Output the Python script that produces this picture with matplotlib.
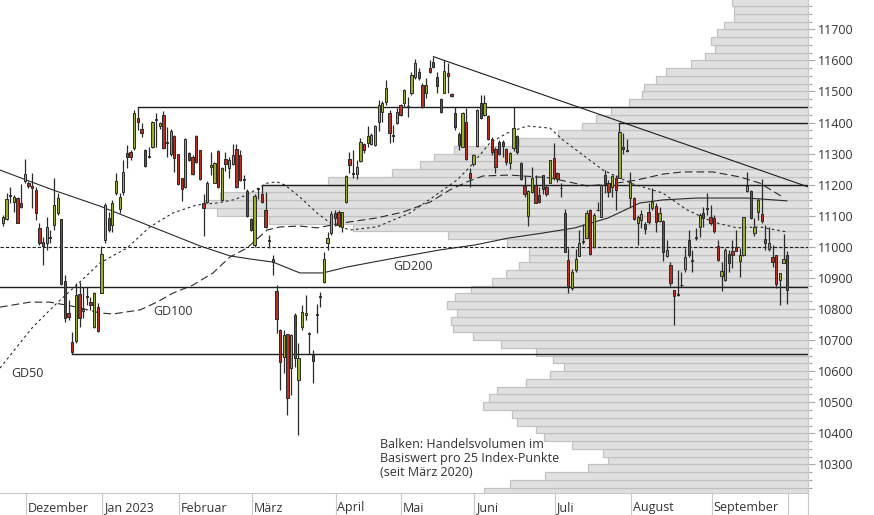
import numpy as np
import matplotlib
matplotlib.use("Agg")
import matplotlib.pyplot as plt
from matplotlib.lines import Line2D
from matplotlib.ticker import MultipleLocator

plt.rcParams['font.family'] = ['Open Sans', 'DejaVu Sans']

# trading-day index, 0 = 1 Dec 2022, first candle at -6
first_day = -6
opens = [11078, 11088, 11165, 11145, 11156, 11140, 11213, 11206, 11195, 11183,
         11060, 11017, 11011, 11030, 11070, 11110, 11088, 10891, 10786, 10695,
         10698, 10847, 10795, 10838, 10823, 10743, 10805, 10853, 11022, 11092,
         11070, 11172, 11121, 11175, 11303, 11306, 11317, 11415, 11378, 11312,
         11290, 11320, 11407, 11389, 11424, 11333, 11298, 11357, 11298, 11220,
         11191, 11303, 11290, 11357, 11310, 11142, 11145, 11258, 11206, 11308,
         11150, 11282, 11253, 11267, 11314, 11295, 11215, 11180, 11088, 11006,
         11186, 11170, 11118, 11018, 10960, 10858, 10732, 10644, 10718, 10609,
         10781, 10571, 10741, 10782, 10721, 10652, 10781, 10838, 10888, 11013,
         11046, 11108, 11112, 11063, 11145, 11284, 11234, 11234, 11276, 11330,
         11333, 11331, 11328, 11403, 11435, 11467, 11430, 11358, 11400, 11456,
         11462, 11450, 11494, 11545, 11564, 11521, 11494, 11574, 11596, 11545,
         11475, 11496, 11558, 11491, 11432, 11363, 11322, 11403, 11238, 11267,
         11325, 11464, 11424, 11421, 11346, 11314, 11338, 11336, 11314, 11271,
         11317, 11357, 11271, 11196, 11099, 11177, 11199, 11167, 11231, 11194,
         11206, 11285, 11236, 11188, 11108, 10958, 10866, 10925, 10971, 11016,
         11030, 11118, 10998, 11117, 11097, 11231, 11204, 11194, 11220, 11223,
         11322, 11310, 11156, 11156, 11078, 11086, 11073, 11113, 11124, 11131,
         11084, 11083, 10971, 10941, 10861, 10848, 10876, 10928, 11022, 10955,
         11029, 11065, 11108, 11123, 11097, 11092, 11003, 10907, 10893, 10977,
         10988, 10998, 10955, 10974, 11181, 11181, 11043, 11113, 11106, 11024,
         10992, 10968, 10974, 10893, 10949, 10974]
highs = [11102, 11174, 11194, 11167, 11159, 11202, 11282, 11213, 11237, 11194,
         11076, 11033, 11097, 11054, 11220, 11172, 11090, 10909, 10829, 10727,
         10883, 10888, 10872, 10872, 10840, 10856, 10818, 11003, 11140, 11113,
         11151, 11236, 11172, 11279, 11328, 11310, 11440, 11450, 11397, 11315,
         11322, 11405, 11432, 11402, 11438, 11387, 11378, 11360, 11300, 11222,
         11350, 11306, 11296, 11360, 11313, 11170, 11212, 11306, 11272, 11312,
         11258, 11305, 11290, 11330, 11330, 11312, 11230, 11185, 11092, 11170,
         11190, 11200, 11177, 11038, 10974, 10877, 10735, 10732, 10720, 10718,
         10786, 10689, 10813, 10845, 10727, 10668, 10816, 10856, 10984, 11048,
         11115, 11117, 11118, 11113, 11230, 11306, 11312, 11279, 11349, 11335,
         11389, 11365, 11392, 11473, 11468, 11537, 11440, 11392, 11446, 11460,
         11507, 11483, 11564, 11603, 11575, 11526, 11542, 11601, 11612, 11564,
         11478, 11601, 11590, 11494, 11449, 11371, 11435, 11446, 11253, 11300,
         11442, 11489, 11489, 11424, 11354, 11322, 11343, 11343, 11317, 11306,
         11451, 11360, 11274, 11228, 11183, 11258, 11231, 11193, 11231, 11200,
         11280, 11333, 11240, 11204, 11121, 10995, 10930, 10992, 11054, 11075,
         11118, 11123, 11108, 11145, 11202, 11247, 11215, 11231, 11231, 11400,
         11365, 11346, 11242, 11161, 11103, 11118, 11081, 11140, 11188, 11140,
         11129, 11086, 11022, 10952, 10861, 10925, 10920, 10995, 11054, 10990,
         11059, 11108, 11129, 11172, 11135, 11102, 11022, 10952, 10995, 10990,
         11022, 11054, 10995, 11097, 11242, 11183, 11092, 11156, 11217, 11070,
         11065, 11006, 10974, 10917, 11041, 10988]
lows = [11067, 11086, 11140, 11113, 11076, 11124, 11207, 11190, 11125, 11086,
        11006, 10941, 10990, 11011, 11054, 11102, 10877, 10759, 10765, 10655,
        10690, 10743, 10770, 10813, 10797, 10738, 10727, 10850, 11011, 11049,
        11049, 11167, 11108, 11167, 11253, 11280, 11312, 11376, 11355, 11258,
        11285, 11318, 11320, 11380, 11315, 11290, 11292, 11240, 11198, 11147,
        11189, 11277, 11230, 11270, 11214, 11035, 11142, 11231, 11204, 11190,
        11148, 11245, 11220, 11262, 11190, 11213, 11185, 11095, 11050, 11000,
        11155, 11140, 11060, 10995, 10909, 10722, 10539, 10593, 10459, 10523,
        10614, 10394, 10732, 10765, 10655, 10561, 10724, 10807, 10882, 10990,
        11038, 11067, 11065, 11049, 11140, 11236, 11220, 11217, 11274, 11301,
        11322, 11328, 11324, 11374, 11403, 11456, 11333, 11338, 11395, 11420,
        11449, 11419, 11488, 11539, 11538, 11446, 11478, 11560, 11574, 11494,
        11432, 11494, 11494, 11483, 11376, 11312, 11320, 11279, 11194, 11260,
        11320, 11410, 11420, 11344, 11295, 11239, 11296, 11290, 11263, 11249,
        11309, 11298, 11214, 11161, 11067, 11172, 11140, 11141, 11169, 11165,
        11204, 11215, 11210, 11159, 10984, 10850, 10862, 10920, 10970, 11010,
        11027, 10974, 10995, 11115, 11095, 11172, 11161, 11161, 11118, 11220,
        11300, 11306, 11129, 11086, 11006, 11059, 11041, 11075, 11118, 11049,
        11080, 10955, 10968, 10874, 10748, 10843, 10872, 10920, 10968, 10920,
        11022, 11033, 11065, 11102, 11070, 11046, 10955, 10858, 10891, 10920,
        10931, 10985, 10902, 10972, 11177, 11088, 11035, 11086, 11078, 10990,
        10988, 10936, 10866, 10813, 10947, 10816]
closes = [11095, 11153, 11168, 11159, 11078, 11127, 11234, 11197, 11190, 11108,
          11011, 11003, 11065, 11031, 11135, 11156, 10879, 10770, 10773, 10660,
          10845, 10770, 10800, 10842, 10814, 10853, 10728, 10977, 11135, 11054,
          11140, 11211, 11161, 11242, 11288, 11290, 11432, 11401, 11365, 11260,
          11293, 11403, 11410, 11400, 11317, 11337, 11374, 11285, 11201, 11186,
          11346, 11281, 11234, 11274, 11217, 11126, 11207, 11262, 11269, 11194,
          11253, 11267, 11279, 11297, 11194, 11215, 11218, 11099, 11054, 11164,
          11188, 11145, 11063, 11021, 10950, 10767, 10630, 10716, 10515, 10716,
          10641, 10641, 10789, 10786, 10723, 10634, 10784, 10841, 10961, 11030,
          11106, 11092, 11070, 11111, 11228, 11263, 11237, 11256, 11338, 11312,
          11357, 11360, 11389, 11458, 11462, 11510, 11365, 11361, 11435, 11424,
          11505, 11452, 11553, 11590, 11543, 11449, 11521, 11564, 11578, 11518,
          11435, 11567, 11550, 11485, 11385, 11328, 11430, 11282, 11220, 11296,
          11440, 11413, 11464, 11346, 11306, 11256, 11299, 11324, 11274, 11301,
          11381, 11306, 11217, 11170, 11180, 11220, 11142, 11145, 11185, 11170,
          11279, 11220, 11217, 11190, 10984, 10874, 10920, 10960, 11013, 11018,
          11108, 10976, 11102, 11119, 11199, 11206, 11177, 11228, 11183, 11370,
          11316, 11308, 11210, 11088, 11095, 11106, 11056, 11081, 11145, 11081,
          11108, 10984, 10990, 10882, 10842, 10845, 10877, 10968, 10974, 10957,
          11031, 11102, 11092, 11125, 11076, 11052, 10958, 10922, 10990, 10949,
          10974, 10988, 10973, 11095, 11196, 11092, 11065, 11151, 11084, 11013,
          11011, 10952, 10880, 10915, 10960, 10861]

# moving averages (day index, level)
gd50_x = [-6.8, 2.2, 8.8, 15.1, 20.6, 28.0, 34.3, 40.6, 47.2, 52.7, 57.1, 60.9, 66.4, 69.1,
          71.3, 75.4, 80.1, 83.7, 89.1, 96.5, 105.6, 111.9, 118.5, 122.0, 127.5, 132.2,
          137.7, 144.0, 147.5, 158.5, 166.5, 174.9, 181.5, 188.6, 195.2, 201.5, 208.9]
gd50_y = [10610, 10742, 10819, 10887, 10948, 10996, 11064, 11109, 11135, 11141, 11151, 11167,
          11205, 11209, 11199, 11160, 11109, 11077, 11054, 11064, 11109, 11160, 11215, 11257,
          11334, 11366, 11389, 11382, 11344, 11247, 11203, 11173, 11119, 11080, 11061, 11064, 11048]
gd100_x = [-6.8, 1.4, 6.9, 14.3, 20.6, 24.2, 31.6, 36.2, 40.6, 46.1, 51.6, 56.2, 60.9, 66.4,
           69.9, 75.4, 80.1, 87.2, 96.5, 103.7, 111.1, 116.5, 121.2, 125.6, 133.0, 144.0,
           154.1, 160.4, 167.8, 174.9, 180.4, 188.6, 196.0, 201.5, 207.8]
gd100_y = [10806, 10822, 10822, 10806, 10787, 10784, 10797, 10822, 10851, 10877, 10916, 10967,
           10996, 11054, 11064, 11067, 11061, 11077, 11093, 11112, 11144, 11183, 11209, 11228,
           11231, 11222, 11196, 11202, 11215, 11234, 11241, 11241, 11225, 11205, 11160]
gd200_x = [-6.8, 7.7, 20.6, 34.3, 48.0, 56.2, 61.7, 68.0, 75.4, 81.7, 88.3, 102.8, 113.8,
           123.4, 132.5, 141.8, 150.8, 159.9, 168.6, 174.9, 184.2, 198.0, 208.9]
gd200_y = [11247, 11183, 11131, 11067, 11003, 10971, 10961, 10951, 10916, 10916, 10935, 10967,
           10990, 11006, 11028, 11044, 11061, 11093, 11141, 11151, 11157, 11157, 11148]

# horizontal marks: start day, level
level_start = [31, 163, 65, -7, 13]
level_value = [11450, 11400, 11200, 10870, 10655]
trend_x = [112, 214.7]
trend_y = [11612, 11193]

# volume profile, 25-point bins from 10200 upwards (relative volume)
profile_low = np.arange(10200, 11800, 25)
profile_vol = [324, 298, 263, 220, 200, 205, 236, 264, 272, 291, 296, 325, 319, 311, 282, 258,
               244, 255, 272, 307, 335, 355, 357, 351, 361, 353, 337, 316, 302, 289, 279, 279,
               301, 360, 455, 539, 591, 603, 588, 546, 480, 416, 388, 374, 354, 289, 250, 226,
               212, 197, 179, 166, 164, 152, 142, 117, 103, 93, 97, 91, 84, 74, 74, 76]

month_start = [0, 21, 42, 62, 85, 103, 123, 145, 166, 188, 209]
month_names = ["Dezember", "Jan 2023", "Februar", "März", "April", "Mai", "Juni",
               "Juli", "August", "September", ""]

green = '#9bb021'
red = '#bb2f1f'
ink = '#2a2a2a'
txt = '#333333'
grid_gray = '#c8c8c8'

fig = plt.figure(figsize=(8.74, 5.15), dpi=100)
ax = fig.add_axes([0, 22 / 515, 808 / 874, 493 / 515])
axv = ax.twiny()
ax.set_zorder(axv.get_zorder() + 1)
ax.patch.set_visible(False)

# volume profile bars
axv.barh(profile_low, profile_vol, height=25, align='edge', color='#e0e0e0',
         edgecolor='#c2c2c2', linewidth=0.9)
axv.set_xlim(808, 0)
axv.axis('off')

days = np.arange(first_day, first_day + len(opens))
o = np.array(opens)
c = np.array(closes)
cols = [green if cc >= oo else red for oo, cc in zip(o, c)]
ax.vlines(days, lows, highs, color=ink, linewidth=0.9, zorder=3)
body = np.maximum(np.abs(c - o), 2)
ax.bar(days, body, bottom=np.minimum(o, c), width=0.62, color=cols,
       edgecolor=ink, linewidth=0.7, zorder=4)

# moving averages
ax.plot(gd200_x, gd200_y, color=ink, linewidth=0.8, zorder=2)
ax.plot(gd100_x, gd100_y, color=ink, linewidth=0.8, linestyle=(0, (7, 3.5)), zorder=2)
ax.plot(gd50_x, gd50_y, color=ink, linewidth=0.8, linestyle=(0, (2.3, 2.7)), zorder=2)

x0, x1 = -6.8, 214.7
for s, lv in zip(level_start, level_value):
    ax.plot([s, x1], [lv, lv], color='#1e1e1e', linewidth=1.0, zorder=2.5)
ax.plot([x0, x1], [11000, 11000], color='#1e1e1e', linewidth=0.8,
        linestyle=(0, (3, 1.8)), zorder=2.5)
ax.plot(trend_x, trend_y, color='#1e1e1e', linewidth=0.8, zorder=2.5)

ax.text(-3.6, 10592, "GD50", fontsize=9, color=txt, va='center', ha='left')
ax.text(35.1, 10793, "GD100", fontsize=9, color=txt, va='center', ha='left')
ax.text(101.0, 10936, "GD200", fontsize=9, color=txt, va='center', ha='left')

note = ["Balken: Handelsvolumen im", "Basiswert pro 25 Index-Punkte", "(seit März 2020)"]
for k, line in enumerate(note):
    ax.text(380 / 808, (493 - 447.5 - 14.3 * k) / 493, line, transform=ax.transAxes,
            fontsize=9, color=txt, va='baseline', ha='left')

ax.set_xlim(x0, x1)
ax.set_ylim(10207.8, 11794.3)

ax.yaxis.tick_right()
ax.yaxis.set_major_locator(MultipleLocator(100))
ax.yaxis.set_minor_locator(MultipleLocator(25))
ax.set_yticks(range(10300, 11800, 100))
ax.set_yticklabels([str(v) for v in range(10300, 11800, 100)])
ax.tick_params(axis='y', which='major', length=4.8, width=0.8, color='#a8a8a8',
               labelsize=9, labelcolor=txt, pad=2.2)
ax.tick_params(axis='y', which='minor', length=3.0, width=0.8, color='#a8a8a8')
ax.set_xticks([])

for side in ['top', 'left']:
    ax.spines[side].set_visible(False)
ax.spines['bottom'].set_color(grid_gray)
ax.spines['right'].set_color(grid_gray)
ax.spines['bottom'].set_linewidth(0.8)
ax.spines['right'].set_linewidth(0.8)

# month separators and names in the band below the plot
tr = ax.get_xaxis_transform()
band = 22 / 493
for m, name in zip(month_start, month_names):
    ax.plot([m + 0.25, m + 0.25], [0, -band], transform=tr, color=grid_gray,
            linewidth=0.8, clip_on=False)
    ax.text(m + 0.7, -18.5 / 493, name, transform=tr, fontsize=9, color=txt,
            va='baseline', ha='left')
fig.add_artist(Line2D([808 / 874, 808 / 874], [0, 22 / 515], color=grid_gray, linewidth=0.8))

fig.savefig("out.png", dpi=100, facecolor='white')
